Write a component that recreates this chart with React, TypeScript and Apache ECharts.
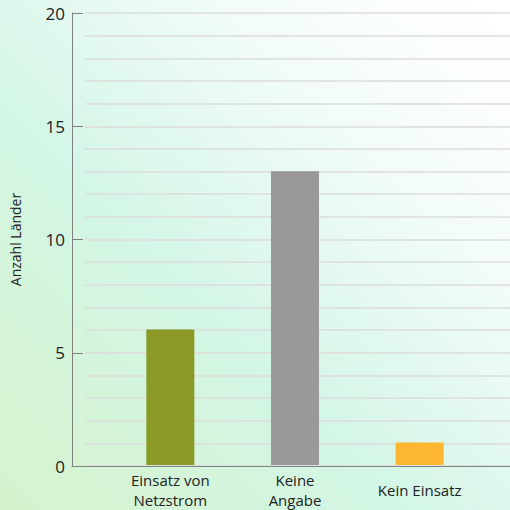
import React, { useEffect, useRef } from "react";
import * as echarts from "echarts";

const categories = ["Einsatz von\nNetzstrom", "Keine\nAngabe", "Kein Einsatz"];
const values = [6, 13, 1];
const barColors = ["#8b9a27", "#999999", "#fcb62f"];
const yTicks = [0, 5, 10, 15, 20];
const yAxisTitle = "Anzahl Länder";

const FONT = "Open Sans";

export default function App() {
  const ref = useRef<HTMLDivElement>(null);
  useEffect(() => {
    if (!ref.current) return;
    const chart = echarts.init(ref.current, null, { renderer: "svg" });
    const top = 13;
    const bottom = 44;
    const yMax = yTicks[yTicks.length - 1];
    chart.setOption({
      animation: false,
      backgroundColor: new echarts.graphic.LinearGradient(0, 1, 1, 0, [
        { offset: 0, color: "#d6f3cc" },
        { offset: 0.4, color: "#d3f6e6" },
        { offset: 0.72, color: "#f3fcf8" },
        { offset: 1, color: "#ffffff" },
      ]),
      grid: [
        { left: 68, right: 0, top, bottom },
        { left: 85, right: 0, top, bottom },
        { left: 108, right: 28, top, bottom },
      ],
      xAxis: [
        {
          gridIndex: 0,
          type: "value",
          min: 0,
          max: 1,
          axisLine: { show: true, lineStyle: { color: "#808080", width: 1 } },
          axisTick: { show: false },
          axisLabel: { show: false },
          splitLine: { show: false },
        },
        {
          gridIndex: 1,
          type: "value",
          show: false,
          min: 0,
          max: 1,
        },
        {
          gridIndex: 2,
          type: "category",
          data: categories,
          axisLine: { show: false },
          axisTick: { show: false },
          axisLabel: {
            color: "#222222",
            fontFamily: FONT,
            fontSize: 15,
            lineHeight: 20,
            verticalAlign: "middle",
            margin: 25,
            interval: 0,
          },
        },
      ],
      yAxis: [
        {
          gridIndex: 0,
          type: "value",
          min: 0,
          max: yMax,
          interval: 5,
          name: yAxisTitle,
          nameLocation: "middle",
          nameGap: 50,
          nameTextStyle: { color: "#222222", fontFamily: FONT, fontSize: 14 },
          axisLine: { show: true, lineStyle: { color: "#808080", width: 1 } },
          axisTick: { show: true, inside: true, length: 11, lineStyle: { color: "#808080" } },
          axisLabel: { color: "#222222", fontFamily: FONT, fontSize: 17, margin: 7 },
          splitLine: { show: false },
        },
        {
          gridIndex: 1,
          type: "value",
          min: 0,
          max: yMax,
          interval: 1,
          axisLine: { show: false },
          axisTick: { show: false },
          axisLabel: { show: false },
          splitLine: { show: true, lineStyle: { color: "#dcdcdc", width: 1.5 } },
        },
        {
          gridIndex: 2,
          type: "value",
          min: 0,
          max: yMax,
          show: false,
        },
      ],
      series: [
        {
          type: "bar",
          xAxisIndex: 2,
          yAxisIndex: 2,
          barWidth: 48,
          data: values.map((v, i) => ({ value: v, itemStyle: { color: barColors[i] } })),
        },
      ],
    });
    return () => chart.dispose();
  }, []);
  return (
    <div
      ref={ref}
      style={{ position: "fixed", left: 0, top: 0, width: 510, height: 510 }}
    />
  );
}
